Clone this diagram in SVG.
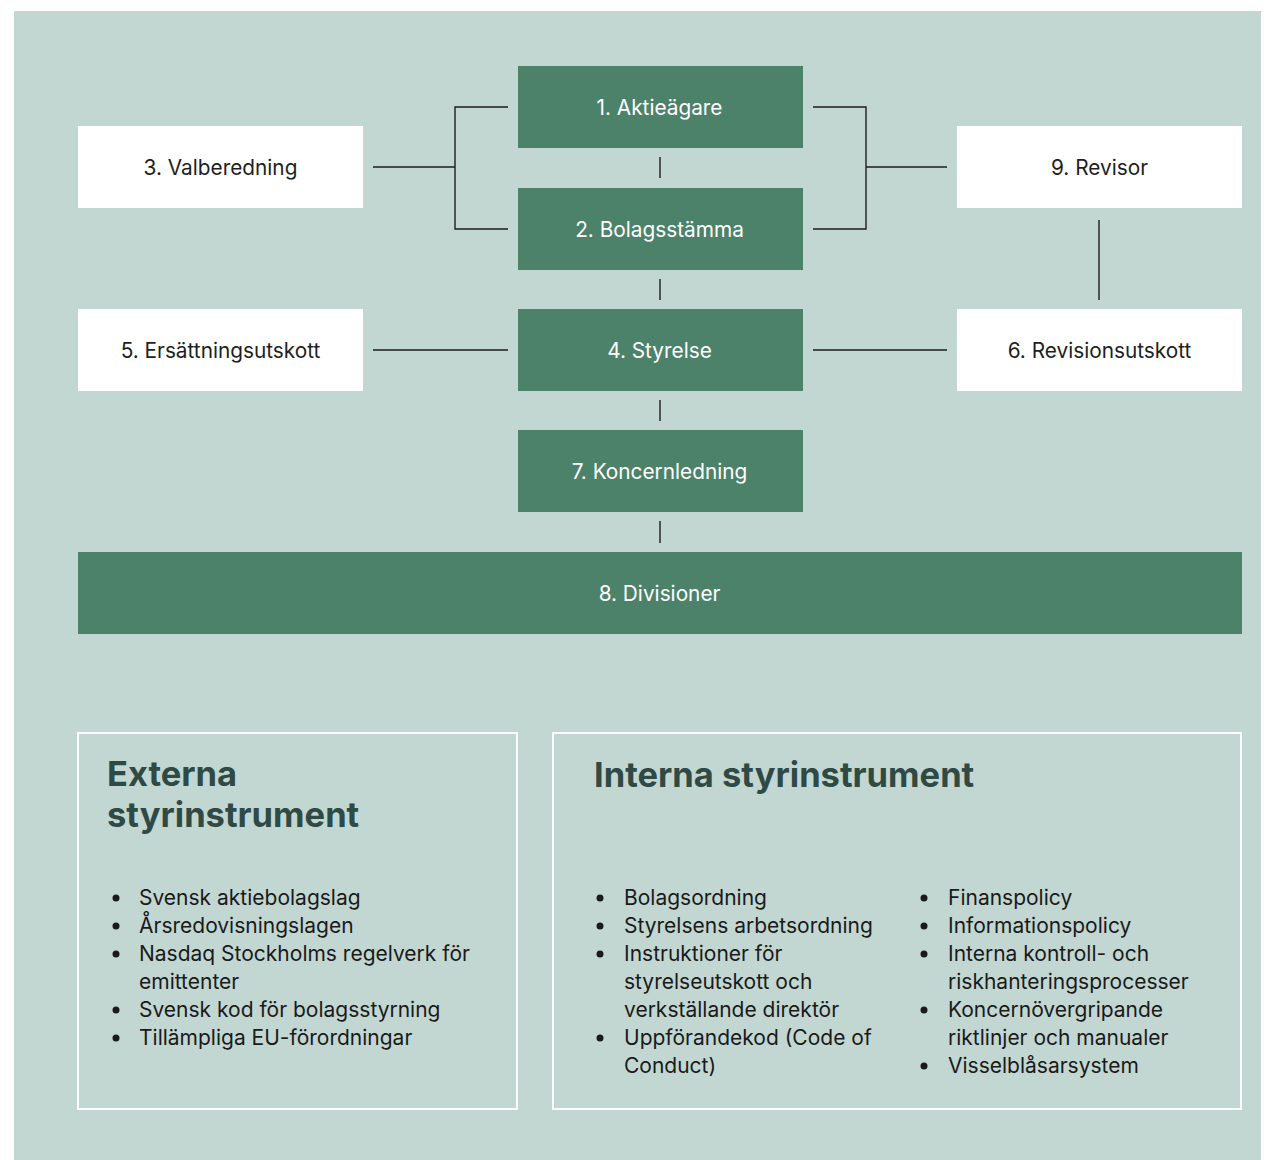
<svg xmlns="http://www.w3.org/2000/svg" width="1275" height="1160" viewBox="0 0 1275 1160">
<style>
.g{fill:#4c826a}
.w{fill:#ffffff}
.lt{font-family:Inter,"Liberation Sans",sans-serif;font-size:20.8px;text-anchor:middle;fill:#ffffff}
.dt{font-family:Inter,"Liberation Sans",sans-serif;font-size:20.8px;text-anchor:middle;fill:#1e1e1e}
.ttl{font-family:Inter,"Liberation Sans",sans-serif;font-size:34.5px;font-weight:700;fill:#2f4a44}
.li{font-family:Inter,"Liberation Sans",sans-serif;font-size:21px;fill:#1a1a1a}
.frame{fill:none;stroke:#ffffff;stroke-width:2}
.c{fill:none;stroke:#1e1e1e;stroke-width:1.4}
</style>
<rect x="0" y="0" width="1275" height="1160" fill="#ffffff"/>
<rect x="14" y="11" width="1247" height="1149" fill="#c2d7d2"/>

<g id="connectors">
<path class="c" d="M373 167H455M508 107H455V229H508"/>
<path class="c" d="M813 107H866V229H813M866 167H947"/>
<path class="c" d="M660 157V178M660 279V300M660 400V421M660 521V543"/>
<path class="c" d="M1099 220V300"/>
<path class="c" d="M373 350H508M813 350H947"/>
</g>

<g id="n1"><rect class="g" x="518" y="66" width="285" height="82"/><text class="lt" x="659.5" y="115">1. Aktieägare</text></g>
<g id="n2"><rect class="g" x="518" y="188" width="285" height="82"/><text class="lt" x="659.5" y="237">2. Bolagsstämma</text></g>
<g id="n3"><rect class="w" x="78" y="126" width="285" height="82"/><text class="dt" x="220.5" y="175">3. Valberedning</text></g>
<g id="n4"><rect class="g" x="518" y="309" width="285" height="82"/><text class="lt" x="659.5" y="358">4. Styrelse</text></g>
<g id="n5"><rect class="w" x="78" y="309" width="285" height="82"/><text class="dt" x="220.5" y="358">5. Ersättningsutskott</text></g>
<g id="n6"><rect class="w" x="957" y="309" width="285" height="82"/><text class="dt" x="1099.5" y="358">6. Revisionsutskott</text></g>
<g id="n7"><rect class="g" x="518" y="430" width="285" height="82"/><text class="lt" x="659.5" y="479">7. Koncernledning</text></g>
<g id="n8"><rect class="g" x="78" y="552" width="1164" height="82"/><text class="lt" x="659.5" y="601">8. Divisioner</text></g>
<g id="n9"><rect class="w" x="957" y="126" width="285" height="82"/><text class="dt" x="1099.5" y="175">9. Revisor</text></g>

<g id="externa">
<rect class="frame" x="78" y="733" width="439" height="376"/>
<text class="ttl" x="107" y="786">Externa</text>
<text class="ttl" x="107" y="827">styrinstrument</text>
<g class="li">
<circle cx="116" cy="898" r="3.5"/><text x="139" y="905">Svensk aktiebolagslag</text>
<circle cx="116" cy="926" r="3.5"/><text x="139" y="933">Årsredovisningslagen</text>
<circle cx="116" cy="954" r="3.5"/><text x="139" y="961">Nasdaq Stockholms regelverk för</text>
<text x="139" y="989">emittenter</text>
<circle cx="116" cy="1010" r="3.5"/><text x="139" y="1017">Svensk kod för bolagsstyrning</text>
<circle cx="116" cy="1038" r="3.5"/><text x="139" y="1045">Tillämpliga EU-förordningar</text>
</g>
</g>

<g id="interna">
<rect class="frame" x="553" y="733" width="688" height="376"/>
<text class="ttl" x="594" y="787">Interna styrinstrument</text>
<g class="li">
<circle cx="600" cy="898" r="3.5"/><text x="624" y="905">Bolagsordning</text>
<circle cx="600" cy="926" r="3.5"/><text x="624" y="933">Styrelsens arbetsordning</text>
<circle cx="600" cy="954" r="3.5"/><text x="624" y="961">Instruktioner för</text>
<text x="624" y="989">styrelseutskott och</text>
<text x="624" y="1017">verkställande direktör</text>
<circle cx="600" cy="1038" r="3.5"/><text x="624" y="1045">Uppförandekod (Code of</text>
<text x="624" y="1073">Conduct)</text>
<circle cx="924" cy="898" r="3.5"/><text x="948" y="905">Finanspolicy</text>
<circle cx="924" cy="926" r="3.5"/><text x="948" y="933">Informationspolicy</text>
<circle cx="924" cy="954" r="3.5"/><text x="948" y="961">Interna kontroll- och</text>
<text x="948" y="989">riskhanteringsprocesser</text>
<circle cx="924" cy="1010" r="3.5"/><text x="948" y="1017">Koncernövergripande</text>
<text x="948" y="1045">riktlinjer och manualer</text>
<circle cx="924" cy="1066" r="3.5"/><text x="948" y="1073">Visselblåsarsystem</text>
</g>
</g>
</svg>
